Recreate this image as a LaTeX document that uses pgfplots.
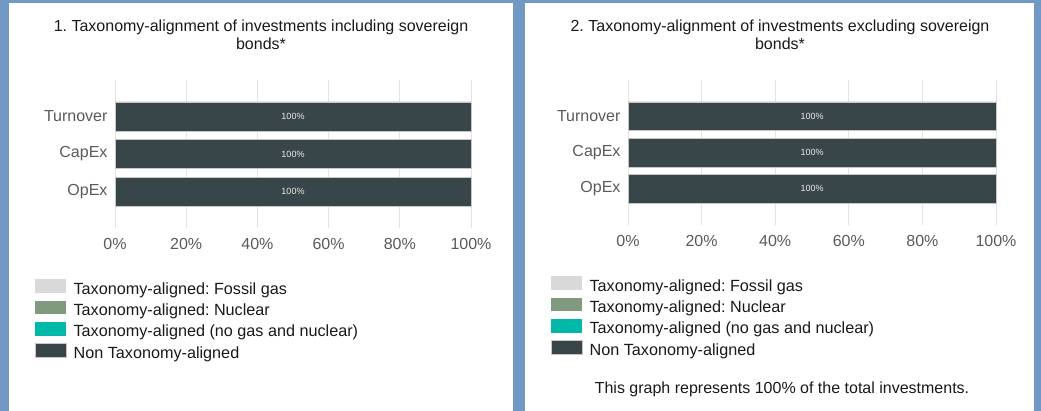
\documentclass[border=0pt]{standalone}
\usepackage{pgfplots}
\pgfplotsset{compat=1.18}
\usepackage{fontspec}
\setmainfont{Liberation Sans}
\frenchspacing
\definecolor{bgblue}{HTML}{7299C6}
\definecolor{fossil}{HTML}{D9D9D9}
\definecolor{nuclear}{HTML}{7F9A7F}
\definecolor{teal2}{HTML}{00B9A9}
\definecolor{nonal}{HTML}{394649}
\definecolor{tickgray}{HTML}{5A5A5A}
\definecolor{gridgray}{HTML}{E3E3E3}
\definecolor{txt}{HTML}{1A1A1A}
\pgfplotsset{
  mybar/.style={
    scale only axis,
    xmin=0, xmax=100,
    xtick={0,20,40,60,80,100},
    xticklabels={0\%,20\%,40\%,60\%,80\%,100\%},
    ytick={0,1,2},
    yticklabels={OpEx,CapEx,Turnover},
    axis line style={draw=none},
    major tick length=0pt,
    xmajorgrids, ymajorgrids=false,
    grid style={gridgray, line width=1pt},
    tick label style={font=\fontsize{16}{18}\selectfont, text=tickgray},
    xticklabel style={yshift=-7pt},
    yticklabel style={xshift=-4pt},
    /pgf/number format/assume math mode=true,
    legend cell align=left,
    legend style={draw=none, fill=none, inner sep=0pt, outer sep=0pt,
      font=\fontsize{16.2}{18}\selectfont, text=txt,
      nodes={inner sep=0pt, text height=11.5pt, text depth=3.5pt},
      column sep=7pt, row sep=2.7pt},
    legend image code/.code={\fill[##1] (0pt,-2.8pt) rectangle (31pt,11pt);},
    clip=false,
  },
  labelplot/.style={only marks, mark=none, forget plot,
    point meta=explicit symbolic,
    nodes near coords,
    every node near coord/.style={anchor=center, font=\fontsize{9}{10}\selectfont, text=white!92!black}},
}
\begin{document}
\begin{tikzpicture}
\fill[bgblue] (0pt,0pt) rectangle (1041pt,411pt);
\fill[white] (9pt,0pt) rectangle (513pt,408pt);
\fill[white] (525pt,0pt) rectangle (1034pt,408pt);
\node[align=center, font=\fontsize{16}{17.5}\selectfont, text=txt] at (261pt,376pt)
  {1. Taxonomy-alignment of investments including sovereign\\bonds*};
\node[align=center, font=\fontsize{16}{17.5}\selectfont, text=txt] at (780pt,376pt)
  {2. Taxonomy-alignment of investments excluding sovereign\\bonds*};
\node[font=\fontsize{16}{18}\selectfont, text=txt] at (782pt,22pt)
  {This graph represents 100\% of the total investments.};

% left axis
\begin{axis}[mybar,
  at={(115pt,183pt)}, anchor=south west,
  width=356pt, height=148pt,
  ymin=-0.973, ymax=2.973,
  legend style={at={(-80pt,-51.5pt)}, anchor=north west},
]
\addplot[xbar, bar width=0.773, bar shift=0pt, fill=fossil, draw=none] coordinates {(0,0) (0,1) (0,2)};
\addlegendentry{Taxonomy-aligned: Fossil gas}
\addplot[xbar, bar width=0.773, bar shift=0pt, fill=nuclear, draw=none] coordinates {(0,0) (0,1) (0,2)};
\addlegendentry{Taxonomy-aligned: Nuclear}
\addplot[xbar, bar width=0.773, bar shift=0pt, fill=teal2, draw=none] coordinates {(0,0) (0,1) (0,2)};
\addlegendentry{Taxonomy-aligned (no gas and nuclear)}
\addplot[xbar, bar width=0.773, bar shift=0pt, fill=nonal, draw=gray!45, line width=0.6pt] coordinates {(100,0) (100,1) (100,2)};
\addlegendentry{Non Taxonomy-aligned}
\addplot[labelplot] coordinates {(50,0) [100\%] (50,1) [100\%] (50,2) [100\%]};
\end{axis}

% right axis
\begin{axis}[mybar,
  at={(628pt,186pt)}, anchor=south west,
  width=368pt, height=145pt,
  ymin=-0.995, ymax=3,
  legend style={at={(-77pt,-51.5pt)}, anchor=north west},
]
\addplot[xbar, bar width=0.79, bar shift=0pt, fill=fossil, draw=none] coordinates {(0,0) (0,1) (0,2)};
\addlegendentry{Taxonomy-aligned: Fossil gas}
\addplot[xbar, bar width=0.79, bar shift=0pt, fill=nuclear, draw=none] coordinates {(0,0) (0,1) (0,2)};
\addlegendentry{Taxonomy-aligned: Nuclear}
\addplot[xbar, bar width=0.79, bar shift=0pt, fill=teal2, draw=none] coordinates {(0,0) (0,1) (0,2)};
\addlegendentry{Taxonomy-aligned (no gas and nuclear)}
\addplot[xbar, bar width=0.79, bar shift=0pt, fill=nonal, draw=gray!45, line width=0.6pt] coordinates {(100,0) (100,1) (100,2)};
\addlegendentry{Non Taxonomy-aligned}
\addplot[labelplot] coordinates {(50,0) [100\%] (50,1) [100\%] (50,2) [100\%]};
\end{axis}
\end{tikzpicture}
\end{document}
